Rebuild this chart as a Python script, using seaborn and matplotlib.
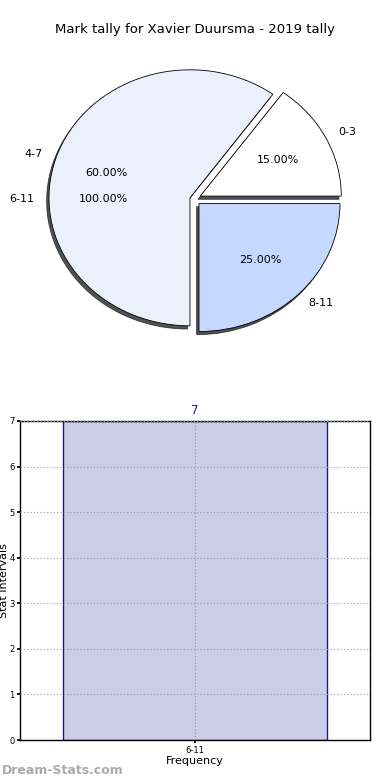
import matplotlib
matplotlib.use("Agg")
import matplotlib.pyplot as plt
import seaborn as sns
import pandas as pd

title = "Mark tally for Xavier Duursma - 2019 tally"
pie_labels = ["0-3", "4-7", "8-11"]
pie_values = [15, 60, 25]
pie_colors = ["#FFFFFF", "#EAF1FD", "#C5D8FF"]
outer_labels = ["6-11"]
outer_values = [100]

bar_categories = ["6-11"]
bar_values = [7]
y_ticks = [0, 1, 2, 3, 4, 5, 6, 7]

sns.set_theme(style="white")
plt.rcParams['font.family'] = ['DejaVu Sans']
plt.rcParams['text.color'] = 'black'
plt.rcParams['axes.labelcolor'] = 'black'
plt.rcParams['xtick.color'] = 'black'
plt.rcParams['ytick.color'] = 'black'

W, H = 390, 780
fig = plt.figure(figsize=(W / 100, H / 100), dpi=100)

fig.text(0.5, 1 - 30 / H, title, ha="center", va="center", fontsize=9.5)

# pie axes (elliptical)
cx, cy, rx, ry = 194, 199, 141, 128
span = 1.25
axp = fig.add_axes([(cx - span * rx) / W, 1 - (cy + span * ry) / H,
                    2 * span * rx / W, 2 * span * ry / H])

# hidden single-slice series (only labels visible)
w2, t2, a2 = axp.pie(outer_values, labels=outer_labels, startangle=0,
                     autopct="%.2f%%", pctdistance=0.64, labeldistance=1.13,
                     wedgeprops=dict(alpha=0), textprops=dict(fontsize=8),
                     frame=True)
wedges, texts, autotexts = axp.pie(
    pie_values, labels=pie_labels, colors=pie_colors, startangle=0,
    explode=[0.05, 0.03, 0.05], autopct="%.2f%%", pctdistance=0.62,
    labeldistance=1.1, counterclock=True,
    shadow=dict(ox=-0.012, oy=-0.018, shade=0.9, alpha=0.75),
    wedgeprops=dict(edgecolor="black", linewidth=0.6),
    textprops=dict(fontsize=8), frame=True)
axp.set_aspect("auto")
axp.set_xlim(-span, span)
axp.set_ylim(-span, span)
axp.axis("off")
for t in list(t2) + list(a2):
    t.set_zorder(10)

# bar axes
L, R, T, B = 20, 370, 421, 740
axb = fig.add_axes([L / W, 1 - B / H, (R - L) / W, (B - T) / H])
df = pd.DataFrame({"cat": bar_categories, "val": bar_values})
sns.barplot(data=df, x="cat", y="val", ax=axb, color="#CCCCE6",
            edgecolor="#1a1a8c", linewidth=1.0, width=0.755, saturation=1)
axb.set_xlim(-0.5, 0.5)
axb.set_ylim(0, 7)
axb.set_yticks(y_ticks)
axb.tick_params(axis="both", labelsize=6, length=2, pad=2, left=True, bottom=True)
axb.set_xlabel("Frequency", fontsize=8, labelpad=1)
axb.set_ylabel("Stat Intervals", fontsize=8)
axb.yaxis.set_label_coords(-0.031, 0.5)
axb.grid(True, linestyle=(0, (1, 2)), color="#999999", linewidth=0.8)
axb.set_axisbelow(False)
for s in axb.spines.values():
    s.set_visible(True)
    s.set_color("black")
    s.set_linewidth(1)
for p, v in zip(axb.patches, bar_values):
    axb.text(p.get_x() + p.get_width() / 2, v + 0.08, str(v), ha="center",
             va="bottom", fontsize=8.5, color="#1a1a8c")

fig.text(2 / W, 1 - 770 / H, "Dream-Stats.com", ha="left", va="center",
         fontsize=9, color="#aaaaaa", fontweight="bold")

fig.savefig("out.png", dpi=100)
